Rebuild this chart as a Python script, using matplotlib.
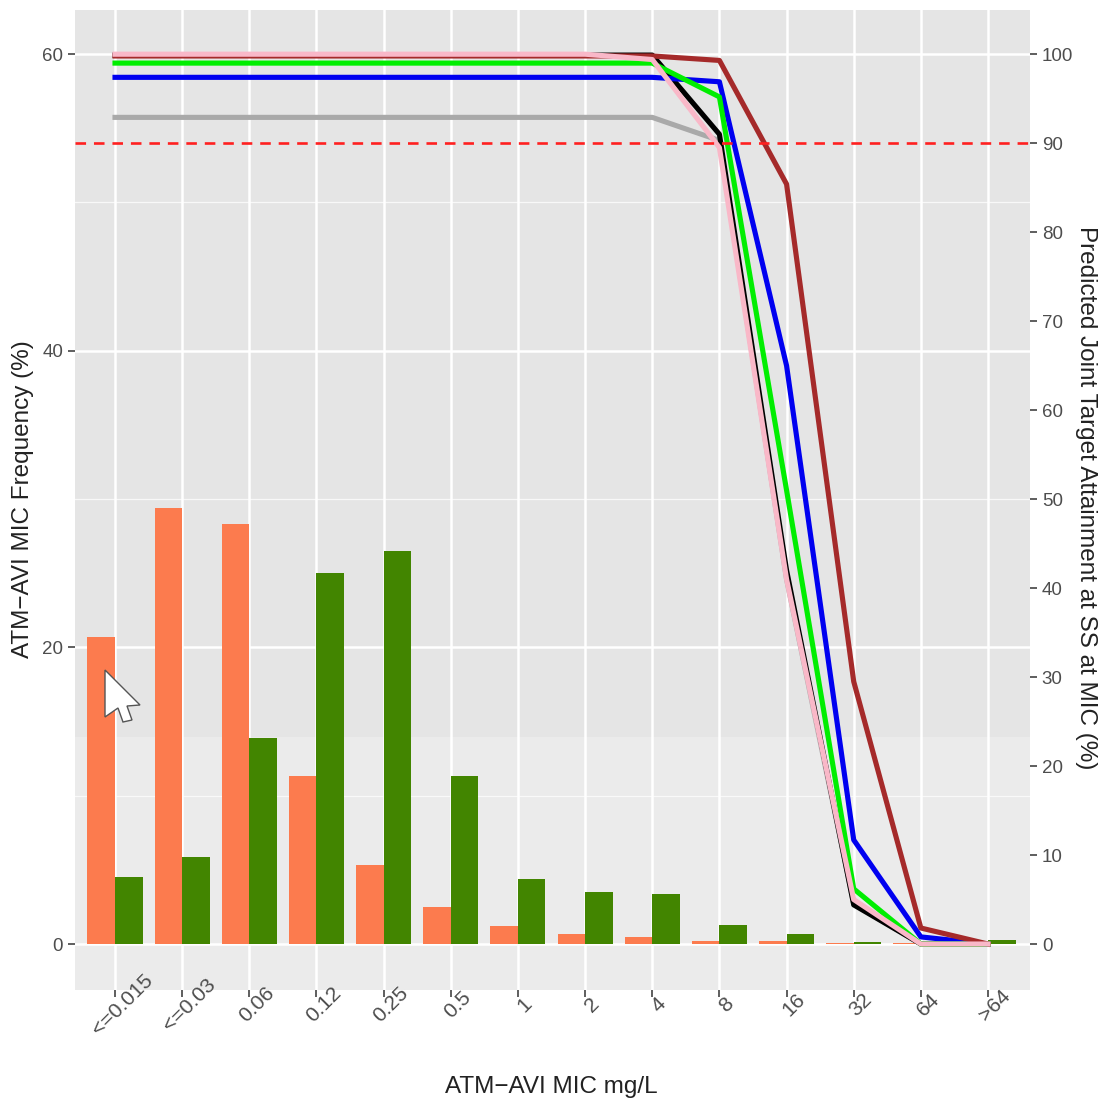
import matplotlib
matplotlib.use('Agg')
import matplotlib.pyplot as plt
from matplotlib.patches import Polygon
from matplotlib.transforms import ScaledTranslation
import numpy as np

plt.rcParams['font.family'] = ['Liberation Sans', 'DejaVu Sans']

mic_labels = ['<=0.015', '<=0.03', '0.06', '0.12', '0.25', '0.5', '1', '2', '4', '8', '16', '32', '64', '>64']

# frecuencias (%) eje izquierdo
freq_orange = [20.7, 29.4, 28.3, 11.3, 5.35, 2.5, 1.2, 0.7, 0.45, 0.2, 0.2, 0.05, 0.05, 0]
freq_green = [4.5, 5.9, 13.9, 25.0, 26.5, 11.3, 4.4, 3.5, 3.35, 1.3, 0.65, 0.15, 0, 0.25]

# target attainment (%) eje derecho
pta_gray = [92.9, 92.9, 92.9, 92.9, 92.9, 92.9, 92.9, 92.9, 92.9, 90.3, 41, 4.5, 0, 0]
pta_black = [99.9, 99.9, 99.9, 99.9, 99.9, 99.9, 99.9, 99.9, 99.9, 91.0, 42, 4.4, 0, 0]
pta_blue = [97.4, 97.4, 97.4, 97.4, 97.4, 97.4, 97.4, 97.4, 97.4, 96.9, 65, 11.7, 0.8, 0]
pta_green = [99.0, 99.0, 99.0, 99.0, 99.0, 99.0, 99.0, 99.0, 99.0, 95.2, 51, 6.2, 0, 0]
pta_darkred = [99.8, 99.8, 99.8, 99.8, 99.8, 99.8, 99.8, 99.8, 99.8, 99.3, 85.4, 29.5, 1.8, 0]
pta_pink = [100, 100, 100, 100, 100, 100, 100, 100, 99.4, 89.5, 41, 5.0, 0, 0]
target_line = 90

x = np.arange(1, len(mic_labels) + 1)
W = 1099

fig = plt.figure(figsize=(10.99, 10.99), dpi=100)
ax = fig.add_axes([75 / W, 1 - 990 / W, 955 / W, 980 / W])
ax.set_xlim(0.404, 14.625)
ax.set_ylim(-3.1, 62.98)

# fondo: panel con la franja inferior algo mas clara
ax.set_facecolor('#e5e5e5')
ax.axhspan(-3.1, 13.96, color='#ebebeb', lw=0, zorder=0)
for v in [10, 30, 50]:
    ax.axhline(v, color='white', lw=0.9, alpha=0.75, zorder=1)
for v in [0, 20, 40, 60]:
    ax.axhline(v, color='white', lw=1.8, zorder=1)
for v in x:
    ax.axvline(v, color='white', lw=1.8, zorder=1)
for s in ax.spines.values():
    s.set_visible(False)

ax.bar(x - 0.205, freq_orange, width=0.41, color='#fc7b4e', zorder=2)
ax.bar(x + 0.205, freq_green, width=0.41, color='#428500', zorder=2)

# las curvas van en escala 0-100, pasadas al eje izquierdo
def to_left(vals):
    return np.array(vals) * 60 / 100

ax.plot(x, to_left(pta_gray), color='#a9a9a9', lw=3.7, zorder=3)
ax.plot(x, to_left(pta_black), color='black', lw=3.7, zorder=4)
ax.plot(x, to_left(pta_blue), color='#0000f0', lw=3.7, zorder=5)
ax.plot(x, to_left(pta_green), color='#00ee00', lw=3.7, zorder=6)
ax.plot(x, to_left(pta_darkred), color='#a52a2a', lw=3.7, zorder=7)
ax.plot(x, to_left(pta_pink), color='#f9b8c8', lw=3.7, zorder=8)
ax.axhline(target_line * 60 / 100, color='#ff2020', lw=1.9, dashes=(4, 3), zorder=9)

ax.set_xticks(x)
ax.set_xticklabels(mic_labels)
ax.set_yticks([0, 20, 40, 60])
ax.tick_params(axis='both', length=5, width=1.1, color='#333333', labelcolor='#4d4d4d', labelsize=13.5)
ax.tick_params(axis='x', pad=5.8, labelsize=15.2)
offset = ScaledTranslation(7 / 100, 0, fig.dpi_scale_trans)
for lab in ax.get_xticklabels():
    lab.set_rotation(45)
    lab.set_ha('center')
    lab.set_va('center')
    lab.set_rotation_mode('anchor')
    lab.set_transform(lab.get_transform() + offset)

ax.set_xlabel('ATM\u2212AVI MIC mg/L', fontsize=17.5, color='#222222')
ax.xaxis.set_label_coords((551 - 75) / 955, -(1087 - 990) / 980)
ax.xaxis.label.set_va('center')
ax.set_ylabel('ATM\u2212AVI MIC Frequency (%)', fontsize=17.5, color='#222222')
ax.yaxis.set_label_coords((23 - 75) / 955, (990 - 499) / 980)
ax.yaxis.label.set_va('center')

ax2 = ax.twinx()
ax2.set_ylim(-3.1 * 100 / 60, 62.98 * 100 / 60)
ax2.set_yticks(np.arange(0, 101, 10))
ax2.tick_params(axis='y', length=5, width=1.1, color='#333333', labelcolor='#4d4d4d', labelsize=13.5)
for s in ax2.spines.values():
    s.set_visible(False)
ax2.set_ylabel('Predicted Joint Target Attainment at SS at MIC (%)', fontsize=17.5, color='#222222', rotation=-90)
ax2.yaxis.set_label_coords((1086 - 75) / 955, (990 - 498) / 980)
ax2.yaxis.label.set_va('center')

# cursor del raton que aparece en la captura
cursor_px = [(105, 670), (105, 717), (118, 708), (123, 722), (132, 720), (127, 706), (140, 705)]
cursor = Polygon([(a / W, 1 - b / W) for a, b in cursor_px], closed=True, transform=fig.transFigure,
                 facecolor='white', edgecolor='#555555', lw=1.0, zorder=20)
fig.add_artist(cursor)

fig.savefig('out.png', dpi=100)
